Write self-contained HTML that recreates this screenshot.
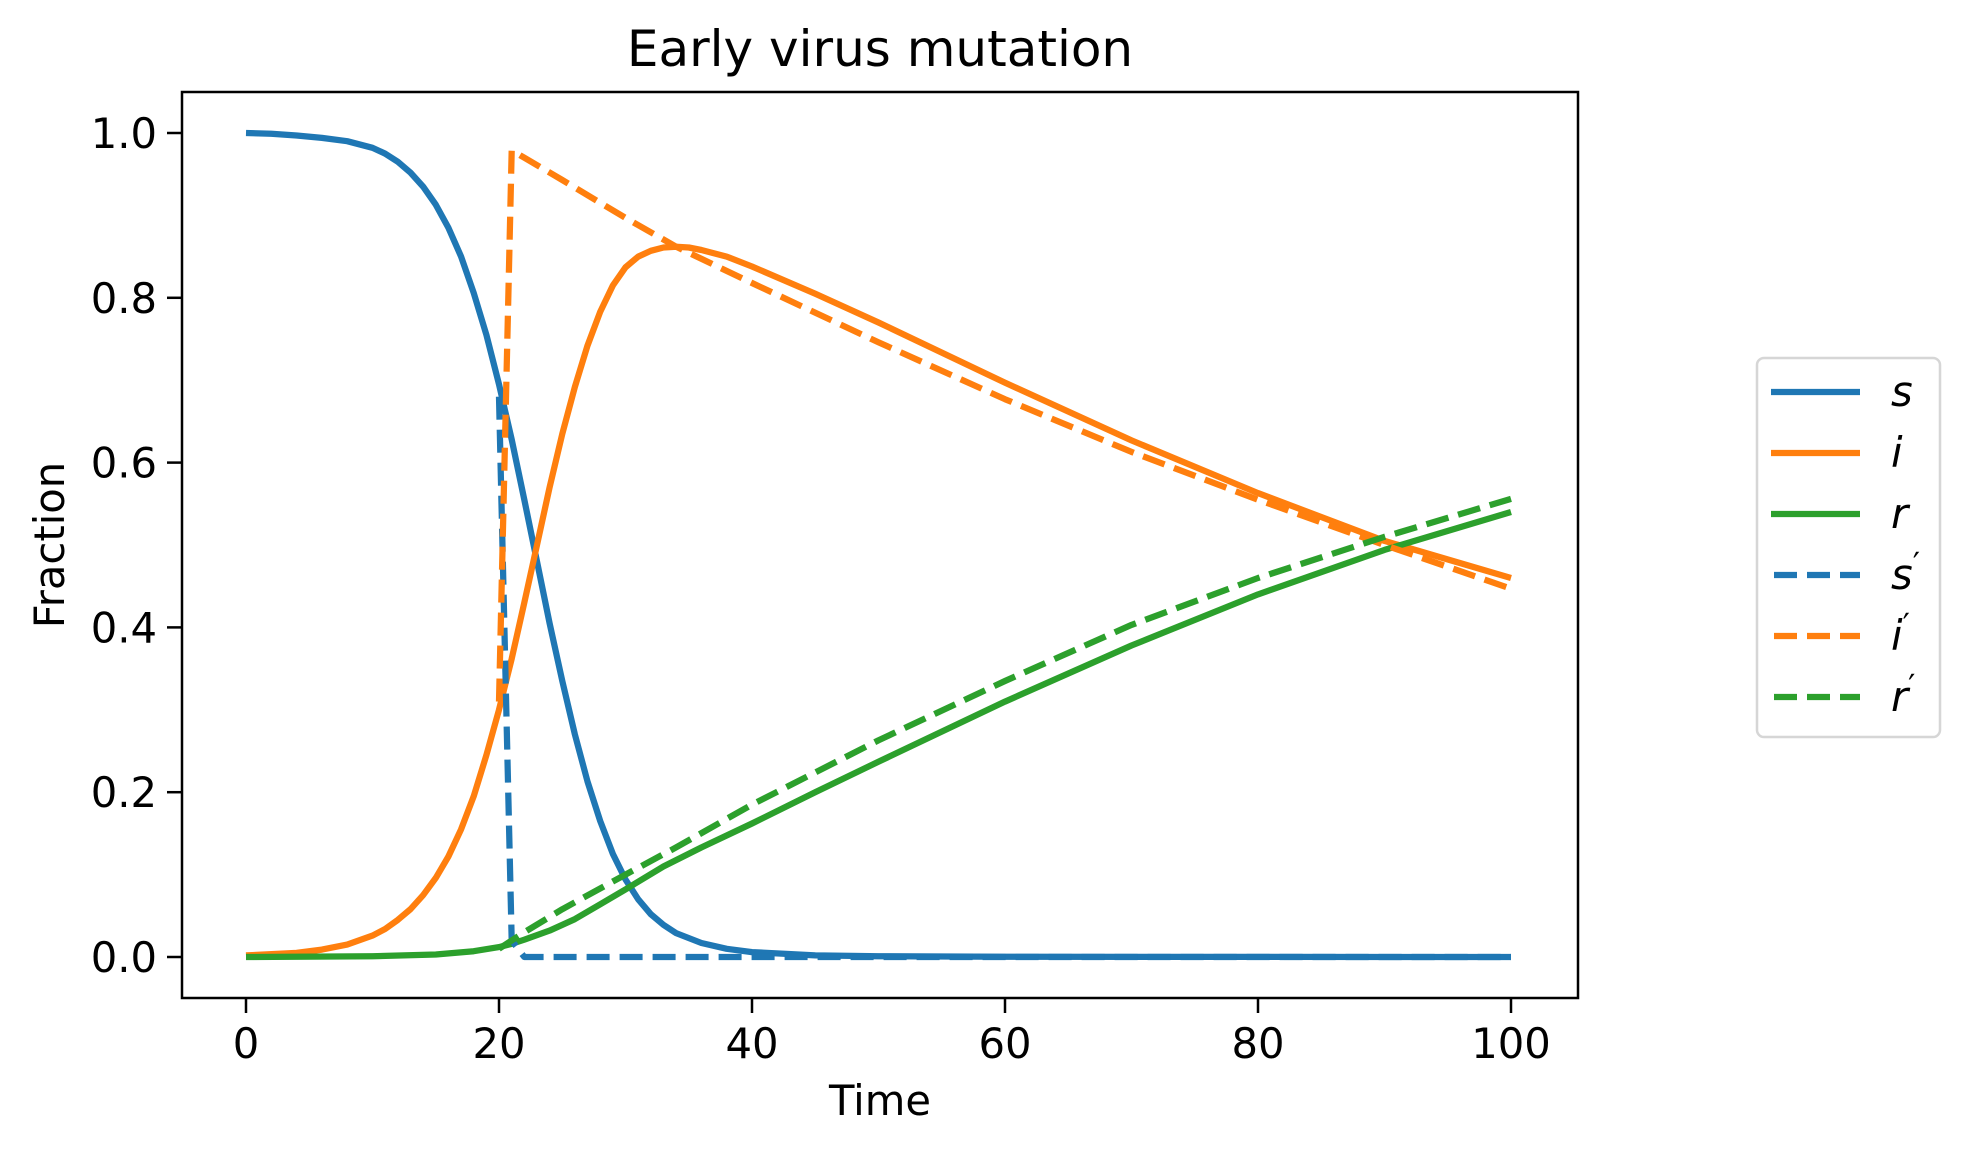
<!DOCTYPE html>
<html><head><meta charset="utf-8"><style>
html,body{margin:0;padding:0;background:#fff}
svg text{font-family:"DejaVu Sans","Liberation Sans",sans-serif;fill:#000}
</style></head><body>
<svg id="chart" width="1970" height="1154" xmlns="http://www.w3.org/2000/svg">
<rect width="1970" height="1154" fill="#fff"/>
<text x="880" y="66" font-size="50" text-anchor="middle">Early virus mutation</text>
<g id="plot"></g>
<rect x="182" y="92" width="1396" height="906" fill="none" stroke="#000" stroke-width="2.5"/>
<g id="ticks"></g>
<text x="880" y="1115" font-size="41.7" text-anchor="middle">Time</text>
<text transform="translate(64,545) rotate(-90)" font-size="41.7" text-anchor="middle">Fraction</text>
<g id="legend">
<rect x="1757" y="358" width="183" height="379" rx="7" fill="#fff" stroke="#d6d6d6" stroke-width="2.5"/>
</g>
</svg>
<script>
const tS=[0,2,4,6,8,10,11,12,13,14,15,16,17,18,19,20,21,22,23,24,25,26,27,28,29,30,31,32,33,34,36,38,40,45,50,60,100];
const sVals=[1.0,0.999,0.997,0.994,0.99,0.982,0.975,0.965,0.952,0.935,0.913,0.885,0.85,0.806,0.755,0.695,0.628,0.555,0.48,0.405,0.335,0.27,0.213,0.165,0.125,0.094,0.07,0.052,0.039,0.029,0.017,0.01,0.006,0.002,0.001,0.0003,0.0];
const tI=[0,4,6,8,10,11,12,13,14,15,16,17,18,19,20,21,22,23,24,25,26,27,28,29,30,31,32,33,34,35,36,38,40,45,50,60,70,80,90,100];
const iVals=[0.002,0.005,0.009,0.015,0.026,0.034,0.045,0.058,0.075,0.096,0.122,0.155,0.195,0.245,0.3,0.362,0.43,0.5,0.57,0.635,0.692,0.742,0.783,0.815,0.837,0.85,0.857,0.861,0.862,0.861,0.858,0.85,0.838,0.805,0.77,0.697,0.627,0.563,0.505,0.46];
const tR=[0,10,15,18,20,21,22,24,26,28,30,33,36,40,45,50,60,70,80,90,100];
const rVals=[0,0.001,0.003,0.007,0.012,0.016,0.021,0.032,0.046,0.064,0.082,0.11,0.133,0.162,0.2,0.237,0.31,0.378,0.44,0.494,0.54];
const tP=[20,21,22,25,30,34,40,50,60,70,80,90,100];
const spVals=[0.68,0.02,0.0,0.0,0.0,0.0,0.0,0.0,0.0,0.0,0.0,0.0,0.0];
const ipVals=[0.31,0.979,0.97,0.943,0.897,0.862,0.818,0.746,0.677,0.613,0.555,0.5,0.447];
const rpVals=[0.01,0.02,0.03,0.058,0.1,0.133,0.185,0.263,0.335,0.403,0.46,0.51,0.556];
const xTicks=[0,20,40,60,80,100];
const yTicks=[0.0,0.2,0.4,0.6,0.8,1.0];
const yTickLabels=["0.0","0.2","0.4","0.6","0.8","1.0"];
const seriesNames=["s","i","r","s","i","r"];

const NS="http://www.w3.org/2000/svg";
const X=t=>246+t*12.65;
const Y=v=>957-v*824;
const plot=document.getElementById('plot');
const ticks=document.getElementById('ticks');
const legend=document.getElementById('legend');
const colors=["#1f77b4","#ff7f0e","#2ca02c"];

function line(ts,vs,color,dashed,name){
  const p=document.createElementNS(NS,'path');
  p.setAttribute('d',ts.map((t,k)=>(k?'L':'M')+X(t).toFixed(1)+' '+Y(vs[k]).toFixed(1)).join(''));
  p.setAttribute('fill','none');p.setAttribute('stroke',color);p.setAttribute('stroke-width','6.25');
  p.setAttribute('stroke-linejoin','round');
  if(dashed)p.setAttribute('stroke-dasharray','23 10');
  
  
  plot.appendChild(p);
}
line(tS,sVals,colors[0],false,'line-s');
line(tI,iVals,colors[1],false,'line-i');
line(tR,rVals,colors[2],false,'line-r');
line(tP,spVals,colors[0],true,'line-s-prime');
line(tP,ipVals,colors[1],true,'line-i-prime');
line(tP,rpVals,colors[2],true,'line-r-prime');

xTicks.forEach(t=>{
  const l=document.createElementNS(NS,'line');
  l.setAttribute('x1',X(t));l.setAttribute('x2',X(t));l.setAttribute('y1',998);l.setAttribute('y2',1013);
  l.setAttribute('stroke','#000');l.setAttribute('stroke-width','2.5');
  
  
  ticks.appendChild(l);
  const tx=document.createElementNS(NS,'text');
  tx.setAttribute('x',X(t));tx.setAttribute('y',1058);tx.setAttribute('font-size','41.7');tx.setAttribute('text-anchor','middle');
  tx.textContent=t;
  
  
  ticks.appendChild(tx);
});
yTicks.forEach((v,k)=>{
  const l=document.createElementNS(NS,'line');
  l.setAttribute('x1',167);l.setAttribute('x2',182);l.setAttribute('y1',Y(v));l.setAttribute('y2',Y(v));
  l.setAttribute('stroke','#000');l.setAttribute('stroke-width','2.5');
  
  
  ticks.appendChild(l);
  const tx=document.createElementNS(NS,'text');
  tx.setAttribute('x',157);tx.setAttribute('y',Y(v)+15);tx.setAttribute('font-size','41.7');tx.setAttribute('text-anchor','end');
  tx.textContent=yTickLabels[k];
  
  
  ticks.appendChild(tx);
});
seriesNames.forEach((n,k)=>{
  const y=392+k*61;
  const l=document.createElementNS(NS,'line');
  l.setAttribute('x1',1771);l.setAttribute('x2',1860);l.setAttribute('y1',y);l.setAttribute('y2',y);
  l.setAttribute('stroke',colors[k%3]);l.setAttribute('stroke-width','6.25');
  if(k>=3){l.setAttribute('stroke-dasharray','23 10');l.setAttribute('x1',1774);}
  
  
  legend.appendChild(l);
  const tx=document.createElementNS(NS,'text');
  tx.setAttribute('x',1891);tx.setAttribute('y',y+14);tx.setAttribute('font-size','41.7');tx.setAttribute('font-style','italic');
  tx.textContent=n;
  if(k>=3){
    const ts=document.createElementNS(NS,'tspan');
    ts.setAttribute('font-style','normal');ts.setAttribute('font-size','32');ts.setAttribute('dy','-14');
    ts.textContent='\u2032';
    tx.appendChild(ts);
  }
  
  
  legend.appendChild(tx);
});
</script>
</body></html>
